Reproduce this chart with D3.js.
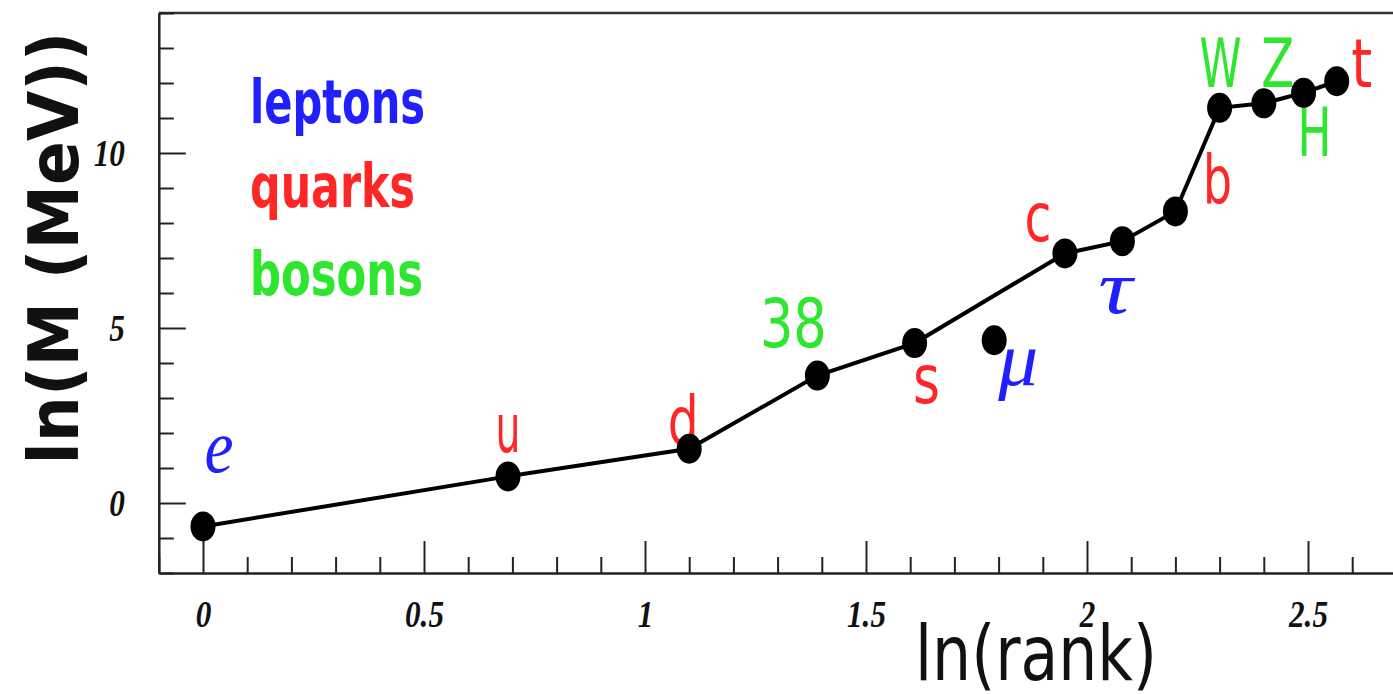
<!DOCTYPE html>
<html>
<head>
<meta charset="utf-8">
<script src="https://cdn.jsdelivr.net/npm/d3@7"></script>
<style>
  body { margin: 0; background: #fff; }
  svg { display: block; }
</style>
</head>
<body>
<svg id="chart" width="1393" height="694"></svg>
<script>
// particle masses vs rank
var particles = ["e", "u", "d", "38", "s", "\u03bc", "c", "\u03c4", "b", "W", "Z", "H", "t"];
var lnRank = [0, 0.69, 1.10, 1.39, 1.61, 1.79, 1.95, 2.08, 2.20, 2.30, 2.40, 2.49, 2.565];
var lnMass = [-0.67, 0.76, 1.55, 3.64, 4.57, 4.65, 7.13, 7.48, 8.33, 11.29, 11.42, 11.72, 12.05];
var family = ["lepton", "quark", "quark", "boson", "quark", "lepton", "quark", "lepton", "quark", "boson", "boson", "boson", "quark"];
// muon sits off the joined line
var joined = [true, true, true, true, true, false, true, true, true, true, true, true, true];

var legendNames = ["leptons", "quarks", "bosons"];
var legendFamily = ["lepton", "quark", "boson"];

var xMajorTicks = [0, 0.5, 1, 1.5, 2, 2.5];
var xTickLabels = ["0", "0.5", "1", "1.5", "2", "2.5"];
var yMajorTicks = [0, 5, 10];
var yTickLabels = ["0", "5", "10"];

// layout only: where each label sits relative to its marker (px)
var labelLayout = {
    "e":      {dx: 16,  dy: -54, w: 29, serif: true},
    "u":      {dx: 0,   dy: -24, w: 25},
    "d":      {dx: -6,  dy: -4,  w: 31},
    "38":     {dx: -24, dy: -29, w: 67},
    "s":      {dx: 12,  dy: 60,  w: 27},
    "\u03bc": {dx: 24,  dy: 45,  w: 40, serif: true},
    "c":      {dx: -27, dy: -12, w: 27},
    "\u03c4": {dx: -7,  dy: 72,  w: 34, serif: true},
    "b":      {dx: 42,  dy: -7,  w: 29},
    "W":      {dx: 1,   dy: -21, w: 42},
    "Z":      {dx: 14,  dy: -16, w: 33},
    "H":      {dx: 11,  dy: 63,  w: 34},
    "t":      {dx: 25,  dy: 6,   w: 21}
};

var colors = {lepton: "#2020ff", quark: "#ff2626", boson: "#2ee62e"};

var svg = d3.select("#chart");
var plotLeft = 158.8, plotTop = 13, plotBottom = 573;

var x = d3.scaleLinear().domain([-0.1, 2.8]).range([plotLeft, plotLeft + 2.9 * 442]);
var y = d3.scaleLinear().domain([-2, 14]).range([plotBottom, plotTop]);

var serif = "'Liberation Serif', 'Times New Roman', serif";
var sans = "'DejaVu Sans', 'Liberation Sans', sans-serif";

// top frame line
svg.append("line")
    .attr("x1", plotLeft).attr("x2", 1400)
    .attr("y1", plotTop).attr("y2", plotTop)
    .attr("stroke", "#333").attr("stroke-width", 2.5);

// minor ticks
var xMinor = d3.range(-1, 28).filter(function(i){ return i % 5 != 0; }).map(function(i){ return i / 10; });
var yMinor = d3.range(-2, 15).filter(function(i){ return i % 5 != 0; });

svg.append("g")
    .attr("transform", "translate(0," + plotBottom + ")")
    .call(d3.axisBottom(x).tickValues(xMinor).tickSize(-16).tickSizeOuter(0).tickFormat(""))
    .call(function(g){ g.select(".domain").remove(); });

svg.append("g")
    .attr("transform", "translate(" + plotLeft + ",0)")
    .call(d3.axisLeft(y).tickValues(yMinor).tickSize(-15).tickSizeOuter(0).tickFormat(""))
    .call(function(g){ g.select(".domain").remove(); });

// major ticks and labels
svg.append("g")
    .attr("transform", "translate(0," + plotBottom + ")")
    .call(d3.axisBottom(x).tickValues(xMajorTicks).tickSize(-32).tickSizeOuter(0).tickPadding(27)
        .tickFormat(function(d, i){ return xTickLabels[i]; }));

svg.append("g")
    .attr("transform", "translate(" + plotLeft + ",0)")
    .call(d3.axisLeft(y).tickValues(yMajorTicks).tickSize(-27).tickSizeOuter(0).tickPadding(34)
        .tickFormat(function(d, i){ return yTickLabels[i]; }));

svg.selectAll(".tick line").attr("stroke", "#222").attr("stroke-width", 2);
svg.selectAll(".domain").attr("stroke", "#222").attr("stroke-width", 2.5);
svg.selectAll(".tick text")
    .attr("fill", "#111")
    .style("font-family", serif)
    .style("font-style", "italic")
    .style("font-weight", "bold")
    .style("font-size", "38px")
    .each(function(){
        // the original glyphs look squeezed sideways
        var w = this.getComputedTextLength();
        d3.select(this).attr("textLength", w * 0.82).attr("lengthAdjust", "spacingAndGlyphs");
    });

// axis titles
svg.append("text")
    .attr("x", 1036).attr("y", 680)
    .attr("text-anchor", "middle")
    .attr("textLength", 242).attr("lengthAdjust", "spacingAndGlyphs")
    .style("font-family", sans).style("font-size", "76px")
    .attr("fill", "#111")
    .text("ln(rank)");

svg.append("text")
    .attr("transform", "translate(78,248) rotate(-90)")
    .attr("text-anchor", "middle")
    .attr("textLength", 433).attr("lengthAdjust", "spacingAndGlyphs")
    .style("font-family", sans).style("font-size", "70px").style("font-weight", "bold")
    .attr("fill", "#111")
    .text("ln(M (MeV))");

// legend
var legendY = [123, 207, 295];
var legendW = [175, 165, 173];
svg.selectAll(".legend")
    .data(legendNames)
    .enter().append("text")
    .attr("class", "legend")
    .attr("x", 250)
    .attr("y", function(d, i){ return legendY[i]; })
    .attr("textLength", function(d, i){ return legendW[i]; })
    .attr("lengthAdjust", "spacingAndGlyphs")
    .style("font-family", sans).style("font-size", "60px").style("font-weight", "bold")
    .attr("fill", function(d, i){ return colors[legendFamily[i]]; })
    .text(function(d){ return d; });

var points = particles.map(function(p, i){
    return {name: p, r: lnRank[i], m: lnMass[i], fam: family[i], on: joined[i]};
});

// point labels
svg.selectAll(".plabel")
    .data(points)
    .enter().append("text")
    .attr("class", "plabel")
    .attr("x", function(d){ return x(d.r) + labelLayout[d.name].dx; })
    .attr("y", function(d){ return y(d.m) + labelLayout[d.name].dy; })
    .attr("text-anchor", "middle")
    .attr("textLength", function(d){ return labelLayout[d.name].w; })
    .attr("lengthAdjust", "spacingAndGlyphs")
    .style("font-family", function(d){ return labelLayout[d.name].serif ? serif : sans; })
    .style("font-style", function(d){ return labelLayout[d.name].serif ? "italic" : "normal"; })
    .style("font-size", function(d){ return labelLayout[d.name].serif ? "76px" : "68px"; })
    .attr("fill", function(d){ return colors[d.fam]; })
    .text(function(d){ return d.name; });

// joining line
var line = d3.line()
    .x(function(d){ return x(d.r); })
    .y(function(d){ return y(d.m); });

svg.append("path")
    .datum(points.filter(function(d){ return d.on; }))
    .attr("d", line)
    .attr("fill", "none")
    .attr("stroke", "#000")
    .attr("stroke-width", 4);

// markers
svg.selectAll(".pt")
    .data(points)
    .enter().append("ellipse")
    .attr("class", "pt")
    .attr("cx", function(d){ return x(d.r); })
    .attr("cy", function(d){ return y(d.m); })
    .attr("rx", 12.5)
    .attr("ry", 15)
    .attr("fill", "#000");
</script>
</body>
</html>
